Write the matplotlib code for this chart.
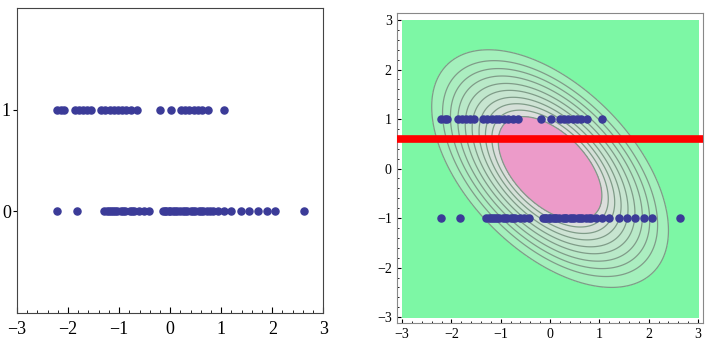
import numpy as np
import matplotlib.pyplot as plt
from matplotlib.ticker import MultipleLocator
from matplotlib.colors import to_rgb

# Data: x values of the two classes
x_class1 = [-2.21, -2.14, -2.08, -1.86, -1.79, -1.71, -1.62, -1.55,
            -1.35, -1.27, -1.18, -1.10, -1.03, -0.94, -0.86, -0.76, -0.65,
            -0.19, 0.02, 0.21, 0.29, 0.37, 0.46, 0.55, 0.63, 0.75, 1.05]
x_class0 = [-2.21, -1.83, -1.29, -1.24, -1.20, -1.16, -1.12, -1.08, -1.04,
            -0.96, -0.92, -0.875, -0.79, -0.75, -0.71, -0.61, -0.52, -0.42,
            -0.15, -0.11, -0.075, -0.03, 0.0, 0.06, 0.10, 0.13, 0.19, 0.26,
            0.30, 0.325, 0.40, 0.44, 0.48, 0.57, 0.61, 0.65, 0.73, 0.78,
            0.83, 0.93, 1.05, 1.19, 1.39, 1.55, 1.73, 1.90, 2.06, 2.63]
class_labels = [0, 1]
rho = -0.52          # correlation of the gaussian in the right panel
threshold = 0.6      # red decision line
contour_dist = [1.05, 1.18, 1.31, 1.44, 1.58, 1.72, 1.87, 2.02, 2.18, 2.40]  # mahalanobis radii

dot_color = '#3b3b98'
plt.rcParams['font.family'] = 'Liberation Serif'

fig = plt.figure(figsize=(7.09, 3.55), dpi=100)

# ---- left panel ----
ax1 = fig.add_axes([0.024, 0.118, 0.432, 0.859])
ax1.scatter(x_class1, np.ones(len(x_class1)), s=26, color=dot_color, zorder=3)
ax1.scatter(x_class0, np.zeros(len(x_class0)), s=26, color=dot_color, zorder=3)
ax1.set_xlim(-3, 3)
ax1.set_ylim(-1, 2)
ax1.set_xticks(range(-3, 4))
ax1.xaxis.set_minor_locator(MultipleLocator(0.2))
ax1.set_yticks(class_labels)
ax1.tick_params(axis='x', which='both', direction='in', top=False, labelsize=13, pad=6)
ax1.tick_params(axis='x', which='major', length=4)
ax1.tick_params(axis='x', which='minor', length=2)
ax1.tick_params(axis='y', direction='out', length=3, labelsize=13, pad=1.5, right=False)
for s in ax1.spines.values():
    s.set_color('#444444')

# ---- right panel ----
ax2 = fig.add_axes([0.5595, 0.090, 0.432, 0.873])
xs = np.linspace(-3, 3, 400)
X, Y = np.meshgrid(xs, xs)
Z = np.exp(-(X**2 - 2 * rho * X * Y + Y**2) / (2 * (1 - rho**2)))
levels = np.sort(np.exp(-np.array(contour_dist)**2 / 2))
fill_levels = np.concatenate([[0], levels, [1.01]])

n = len(levels)
green = np.array(to_rgb('#7df7a5'))
light = np.array(to_rgb('#a4f0bc'))
grey = np.array(to_rgb('#dcdedc'))
band_colors = [green]
for t in np.linspace(0, 1, n - 1):
    band_colors.append(light * (1 - t) + grey * t)
band_colors.append(np.array(to_rgb('#ec9bc9')))
ax2.contourf(X, Y, Z, levels=fill_levels, colors=[tuple(c) for c in band_colors])
ax2.contour(X, Y, Z, levels=levels, colors='#7f9c88', linewidths=0.9)

ax2.axhline(threshold, color='red', lw=5.5, zorder=4)
ax2.scatter(x_class1, np.ones(len(x_class1)), s=26, color=dot_color, zorder=5)
ax2.scatter(x_class0, -np.ones(len(x_class0)), s=26, color=dot_color, zorder=5)

ax2.set_xlim(-3.11, 3.10)
ax2.set_ylim(-3.12, 3.14)
ax2.set_xticks(range(-3, 4))
ax2.set_yticks(range(-3, 4))
ax2.xaxis.set_minor_locator(MultipleLocator(0.2))
ax2.yaxis.set_minor_locator(MultipleLocator(0.2))
ax2.tick_params(which='both', direction='in', top=False, right=False, labelsize=10)
ax2.tick_params(which='major', length=3)
ax2.tick_params(which='minor', length=1.5)
for s in ax2.spines.values():
    s.set_color('#888888')

plt.savefig('out.png', dpi=100)
